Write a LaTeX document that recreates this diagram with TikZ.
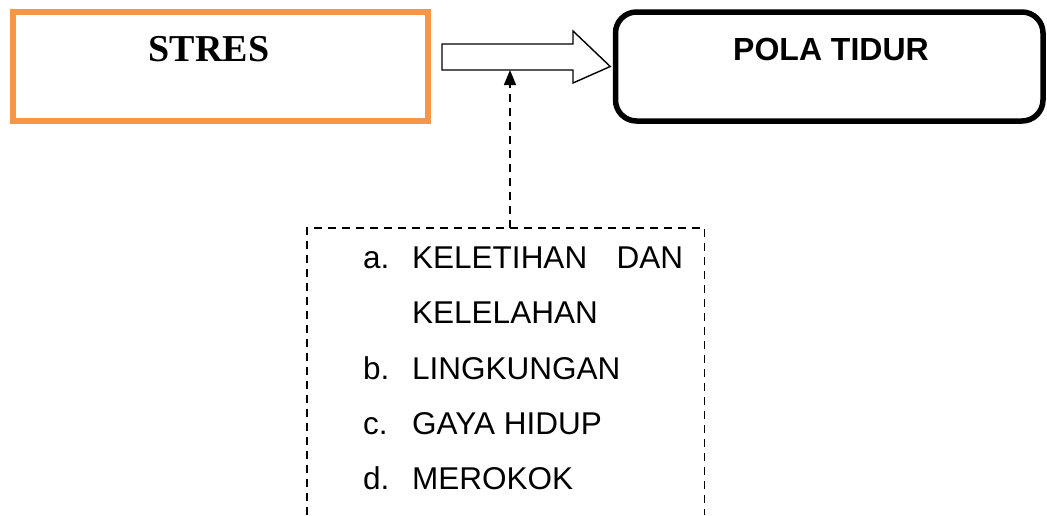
\documentclass[tikz,border=0pt]{standalone}
\usepackage{fontspec}
\setmainfont{Liberation Sans}
\newfontfamily\timesfont{Liberation Serif}
\usetikzlibrary{arrows.meta}
\definecolor{boxorange}{HTML}{F79646}
\tikzset{
  stresbox/.style={draw=boxorange, line width=6pt, minimum width=415pt, minimum height=109pt, inner sep=0pt},
  polabox/.style={draw=black, line width=5.5pt, rounded corners=21pt, minimum width=427.5pt, minimum height=109pt, inner sep=0pt},
  blockarrow/.style={draw=black, line width=1.4pt, fill=white, line join=miter},
  factorframe/.style={draw=black, line width=1.4pt, dash pattern=on 8pt off 6pt},
  influence/.style={draw=black, line width=1.4pt, dash pattern=on 8pt off 6pt, -{Triangle[length=15pt, width=12pt]}},
  itemtext/.style={anchor=base west, inner sep=0pt, font=\fontsize{31.5}{38}\selectfont},
}
\begin{document}
\begin{tikzpicture}[x=1pt, y=-1pt]
\useasboundingbox (0,0) rectangle (1047,515);

% main boxes
\node[stresbox] (stres) at (220.5,66.5) {};
\node[anchor=base, inner sep=0pt, font=\timesfont\bfseries\fontsize{38}{44}\selectfont] (streslabel) at (209,61) {STRES};

\node[polabox] (pola) at (829.25,66.5) {};
\node[anchor=base, inner sep=0pt, font=\bfseries\fontsize{32}{38}\selectfont] (polalabel) at (831,60) {POLA TIDUR};

% block arrow from STRES to POLA TIDUR
\coordinate (tip) at ([xshift=-2.5pt]pola.west);
\draw[blockarrow] (442,44) -- (573,44) -- (573,31) -- (tip) -- (573,83) -- (573,70) -- (442,70) -- cycle;
\coordinate (shaftfoot) at (510,70);

% factor frame (open at the bottom)
\node[inner sep=0pt, minimum width=397pt, minimum height=287pt, anchor=north west] (factors) at (307,228) {};
\draw[factorframe] (factors.south west) -- (factors.north west) -- (factors.north east) -- (factors.south east);
\coordinate (factortop) at (factors.north -| shaftfoot);
\draw[influence] (factortop) -- (shaftfoot);

% list of factors
\node[itemtext] (la) at (363,268) {a.};
\node[itemtext] (ia) at (412,268) {\hbox to 271pt{KELETIHAN\hfill DAN}};
\node[itemtext] (ia2) at (412,323.5) {KELELAHAN};
\node[itemtext] (lb) at (363,379) {b.};
\node[itemtext] (ib) at (412,379) {LINGKUNGAN};
\node[itemtext] (lc) at (363,434) {c.};
\node[itemtext] (ic) at (412,434) {GAYA HIDUP};
\node[itemtext] (ld) at (363,489) {d.};
\node[itemtext] (id) at (412,489) {MEROKOK};
\end{tikzpicture}
\end{document}
